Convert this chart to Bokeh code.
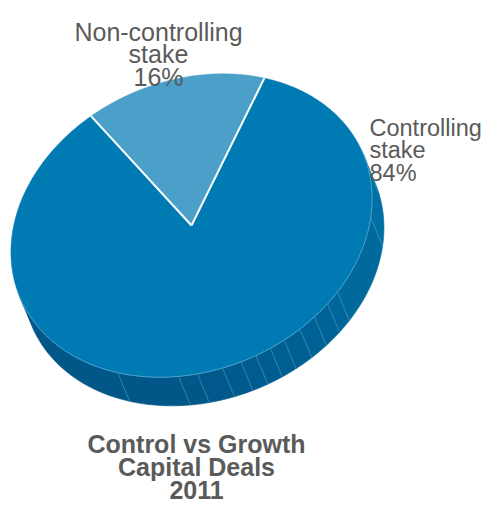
import numpy as np
from bokeh.plotting import figure
from bokeh.models import Range1d
from bokeh.core.properties import value
from bokeh.embed import file_html
from bokeh.resources import INLINE

# ---------------- data ----------------
categories = ["Controlling stake", "Non-controlling stake"]
shares = [84, 16]
title_lines = ["Control vs Growth", "Capital Deals", "2011"]

# ---------------- style / layout ----------------
W, H = 482, 503
slice_colors = ["#007AB3", "#4BA0C9"]
text_color = "#5A5A5A"
font = "Liberation Sans"
cx, cy = 191.0, 225.0          # pie centre (px)
ra, rb = 186.0, 145.0          # ellipse semi-axes
tilt = np.radians(22.5)        # major axis tilt
start_deg = 48.3               # start angle of first slice (clockwise)
depth = 31.0
facet_lines = [228, 248, 254, 262, 268, 273, 278, 283, 289, 295, 301, 306, 335, 355]

dx, dy = depth * np.sin(tilt), depth * np.cos(tilt)


def pt(tdeg):
    t = np.radians(np.asarray(tdeg, dtype=float))
    X = ra * np.cos(t) * np.cos(tilt) - rb * np.sin(t) * np.sin(tilt)
    Y = ra * np.cos(t) * np.sin(tilt) + rb * np.sin(t) * np.cos(tilt)
    return cx + X, cy - Y


p = figure(width=W, height=H, x_range=Range1d(0, W), y_range=Range1d(H, 0),
           output_backend="svg", toolbar_location=None, min_border=0,
           x_axis_type=None, y_axis_type=None)
p.outline_line_color = None
p.background_fill_color = "white"

# ---------- side of the pie ----------
bounds = [180] + facet_lines + [360]
xs_side, ys_side, cols = [], [], []
c_dark = np.array([0x00, 0x57, 0x88])
c_light = np.array([0x00, 0x72, 0xA6])
for t0, t1 in zip(bounds[:-1], bounds[1:]):
    tt = np.linspace(t0, t1, 20)
    x0, y0 = pt(tt)
    xs_side.append(list(x0) + list(x0[::-1] + dx))
    ys_side.append(list(y0) + list(y0[::-1] + dy))
    tm = 0.5 * (t0 + t1)
    f = np.clip((tm - 250) / 100.0, 0, 1)
    c = (c_dark * (1 - f) + c_light * f).astype(int)
    cols.append("#%02x%02x%02x" % tuple(c))
p.patches(xs_side, ys_side, fill_color=cols, line_color=cols, line_width=0.6)

fx, fy = pt(facet_lines)
p.segment(x0=fx, y0=fy, x1=fx + dx, y1=fy + dy, line_color="#4C9CC8", line_width=0.7, line_alpha=0.8)

# ---------- top face ----------
total = float(sum(shares))
angs = [start_deg]
for s in shares:
    angs.append(angs[-1] - 360.0 * s / total)
xs_top, ys_top = [], []
for a0, a1 in zip(angs[:-1], angs[1:]):
    tt = np.linspace(a0, a1, 200)
    x0, y0 = pt(tt)
    xs_top.append([cx] + list(x0))
    ys_top.append([cy] + list(y0))
p.patches(xs_top, ys_top, fill_color=slice_colors, line_color=slice_colors, line_width=0.5)

tt = np.linspace(178, 362, 300)
ex, ey = pt(tt)
p.line(ex, ey, line_color="#4FA3D0", line_width=1)

bx, by = pt(angs[:-1])
p.segment(x0=[cx] * len(bx), y0=[cy] * len(by), x1=bx, y1=by, line_color="white", line_width=2)

# ---------- labels ----------
label_anchor = {"Controlling stake": (369, 127, "left", "23.5px"),
                "Non-controlling stake": (158, 31, "center", "25px")}
line_gap = 22.5
for name, s in zip(categories, shares):
    x0, y0, al, fs = label_anchor[name]
    parts = name.split(" ") + [f"{s}%"]
    p.text(x=[x0] * len(parts), y=[y0 + i * line_gap for i in range(len(parts))], text=parts,
           text_align=al, text_baseline="alphabetic", text_color=text_color,
           text_font=value(font), text_font_size=fs)

# ---------- title ----------
ty0, tgap = 443, 23
p.text(x=[196] * len(title_lines), y=[ty0 + i * tgap for i in range(len(title_lines))],
       text=title_lines, text_align="center", text_baseline="alphabetic",
       text_color=text_color, text_font=value(font), text_font_size="25px",
       text_font_style="bold")

open("out.html", "w").write(file_html(p, INLINE))
